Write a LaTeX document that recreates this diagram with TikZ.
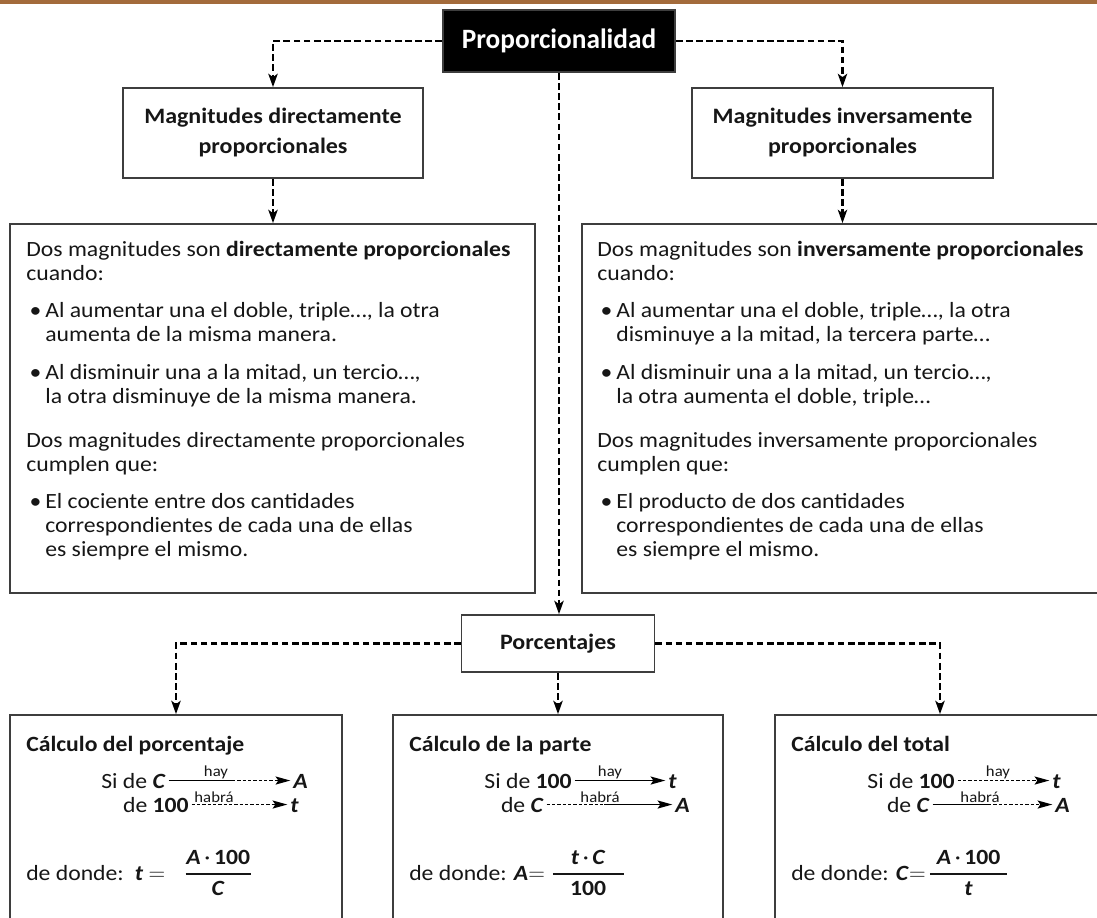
\documentclass[tikz,border=0pt]{standalone}
\usepackage{fontspec}
\setmainfont[FakeStretch=1.09]{Carlito}
\newfontfamily\titlefont[FakeStretch=0.975]{Carlito}
\usepackage{amsmath}
\usetikzlibrary{positioning}
\usetikzlibrary{arrows.meta}
\usetikzlibrary{calc}

\definecolor{bandbrown}{RGB}{163,107,59}
\definecolor{boxgray}{RGB}{62,62,62}
\definecolor{inkblack}{RGB}{22,22,22}

\newcommand{\px}{0.75pt}
\newcommand{\varb}[1]{\textbf{\textit{#1}}}
\newcommand{\bpt}{\hbox to 14.2pt{\hskip 2.5pt\textbullet\hss}}
\newcommand{\bcont}{\hspace*{14.2pt}}
% fraction with a fixed bar length
\newcommand{\barfrac}[3]{\genfrac{}{}{1.2pt}{0}{\text{\makebox[#1]{#2}}}{\text{\makebox[#1]{#3}}}}

\begin{document}
\begin{tikzpicture}[x=0.75pt, y=-0.75pt,
  box/.style={draw=boxgray, line width=1.3pt, inner sep=0pt},
  conn/.style={line width=1.8pt, dash pattern=on 5pt off 2.6pt,
    -{Stealth[length=10pt, width=7pt, inset=2.5pt]}},
  headtext/.style={font=\fontsize{16.5}{22.5}\selectfont\bfseries, align=center, text=inkblack},
  bodytext/.style={font=\fontsize{16.3}{18}\selectfont, inner sep=0pt,
    text=inkblack, anchor=base west},
  lefttext/.style={bodytext, anchor=base east},
  reltext/.style={font=\fontsize{11.5}{12}\selectfont, inner sep=1pt, anchor=south, text=inkblack},
  relsolid/.style={line width=1.2pt},
  reldash/.style={line width=1.2pt, dash pattern=on 2.4pt off 1.6pt},
  reltip/.style={-{Stealth[length=11pt, width=6pt, inset=2pt]}}
]

  \useasboundingbox (0,0) rectangle (1097,918);
  \clip (0,0) rectangle (1097,918);

  % brown band on top
  \fill[bandbrown] (0,0) rectangle (1097,3.5);

  % main title
  \node[box, fill=black, minimum width=232*\px, minimum height=62*\px,
    font=\titlefont\bfseries\fontsize{21}{24}\selectfont, text=white] (prop) at (559,41) {Proporcionalidad};

  % the two kinds of magnitudes
  \node[box, headtext, minimum width=300*\px, minimum height=90*\px] (magdir) at (273,133)
    {Magnitudes directamente\\proporcionales};
  \node[box, headtext, minimum width=301*\px, minimum height=90*\px] (magind) at (842.5,133)
    {Magnitudes inversamente\\proporcionales};

  \node[box, minimum width=525*\px, minimum height=369*\px] (dirbox) at (272.5,408.5) {};
  \node[box, minimum width=523*\px, minimum height=369*\px] (invbox) at (843.5,408.5) {};

  \node[bodytext] (dirtext) at ([shift={(17,33)}]dirbox.north west) {%
    \begin{tabular}[t]{@{}l@{}}
    Dos magnitudes son \textbf{directamente proporcionales}\\
    cuando:\\[10pt]
    \bpt Al aumentar una el doble, triple…, la otra\\
    \bcont aumenta de la misma manera.\\[10.5pt]
    \bpt Al disminuir una a la mitad, un tercio…,\\
    \bcont la otra disminuye de la misma manera.\\[15pt]
    Dos magnitudes directamente proporcionales\\
    cumplen que:\\[10pt]
    \bpt El cociente entre dos cantidades\\
    \bcont correspondientes de cada una de ellas\\
    \bcont es siempre el mismo.
    \end{tabular}};

  \node[bodytext] (invtext) at ([shift={(16,33)}]invbox.north west) {%
    \begin{tabular}[t]{@{}l@{}}
    Dos magnitudes son \textbf{inversamente proporcionales}\\
    cuando:\\[10pt]
    \bpt Al aumentar una el doble, triple…, la otra\\
    \bcont disminuye a la mitad, la tercera parte…\\[10.5pt]
    \bpt Al disminuir una a la mitad, un tercio…,\\
    \bcont la otra aumenta el doble, triple…\\[15pt]
    Dos magnitudes inversamente proporcionales\\
    cumplen que:\\[10pt]
    \bpt El producto de dos cantidades\\
    \bcont correspondientes de cada una de ellas\\
    \bcont es siempre el mismo.
    \end{tabular}};

  % percentages
  \node[box, headtext, minimum width=193*\px, minimum height=57*\px] (porc) at (558,643.5) {Porcentajes};

  \node[box, minimum width=332*\px, minimum height=230*\px] (bleft) at (176,830) {};
  \node[box, minimum width=330*\px, minimum height=230*\px] (bmid) at (558,830) {};
  \node[box, minimum width=330*\px, minimum height=230*\px] (bright) at (940,830) {};

  % connectors
  \draw[conn] (prop.west) -| (magdir.north);
  \draw[conn] (prop.east) -| (magind.north);
  \draw[conn] (magdir.south) -- (magdir.south |- dirbox.north);
  \draw[conn] (magind.south) -- (magind.south |- invbox.north);
  \draw[conn] (prop.south) -- (prop.south |- porc.north);
  \draw[conn] (porc.west) -| (bleft.north);
  \draw[conn] (porc.east) -| (bright.north);
  \draw[conn] (porc.south) -- (porc.south |- bmid.north);

  % Calculo del porcentaje
  \node[bodytext, font=\fontsize{16.3}{18}\selectfont\bfseries] (ptitle) at (26,751) {Cálculo del porcentaje};
  \node[lefttext] (pc1) at (166,788) {Si de \varb{C}};
  \node[bodytext] (pa1) at (293,788) {\varb{A}};
  \node[lefttext] (pc2) at (189,812) {de \textbf{100}};
  \node[bodytext] (pa2) at (290,812) {\varb{t}};
  \draw[relsolid, shorten <=2pt] (pc1.east) -- ++(66,0) coordinate (pm1);
  \draw[reldash, reltip, shorten >=2pt] (pm1) -- (pm1 -| pa1.west);
  \path (pc1.east) ++(50,0) node[reltext] {hay};
  \draw[reldash, reltip, shorten <=2pt, shorten >=2pt] (pc2.east) -- (pc2.east -| pa2.west);
  \path (pc2.east) ++(25,0) node[reltext] {habrá};
  \node[bodytext] (pform) at (26,880)
    {de donde:\hspace{3pt} \varb{t} $=$\hspace{14pt}$\barfrac{49pt}{\varb{A}\,·\,\textbf{100}}{\varb{C}}$};

  % Calculo de la parte
  \node[bodytext, font=\fontsize{16.3}{18}\selectfont\bfseries] (ttitle) at (409,751) {Cálculo de la parte};
  \node[lefttext] (tc1) at (572,788) {Si de \textbf{100}};
  \node[bodytext] (ta1) at (668,788) {\varb{t}};
  \node[lefttext] (tc2) at (544,812) {de \varb{C}};
  \node[bodytext] (ta2) at (675,812) {\varb{A}};
  \draw[relsolid, reltip, shorten <=2pt, shorten >=2pt] (tc1.east) -- (tc1.east -| ta1.west);
  \path (tc1.east) ++(38,0) node[reltext] {hay};
  \draw[reldash, shorten <=2pt] (tc2.east) -- ++(60,0) coordinate (tm2);
  \draw[relsolid, reltip, shorten >=2pt] (tm2) -- (tm2 -| ta2.west);
  \path (tc2.east) ++(56,0) node[reltext] {habrá};
  \node[bodytext] (tform) at (409,880)
    {de donde: \varb{A}$=\barfrac{53pt}{\varb{t}\,·\,\varb{C}}{\textbf{100}}$};

  % Calculo del total
  \node[bodytext, font=\fontsize{16.3}{18}\selectfont\bfseries] (ctitle) at (791,751) {Cálculo del total};
  \node[lefttext] (cc1) at (955,788) {Si de \textbf{100}};
  \node[bodytext] (ca1) at (1052,788) {\varb{t}};
  \node[lefttext] (cc2) at (930,812) {de \varb{C}};
  \node[bodytext] (ca2) at (1055,812) {\varb{A}};
  \draw[reldash, reltip, shorten <=2pt, shorten >=2pt] (cc1.east) -- (cc1.east -| ca1.west);
  \path (cc1.east) ++(43,0) node[reltext] {hay};
  \draw[relsolid, shorten <=2pt] (cc2.east) -- ++(58,0) coordinate (cm2);
  \draw[reldash, reltip, shorten >=2pt] (cm2) -- (cm2 -| ca2.west);
  \path (cc2.east) ++(50,0) node[reltext] {habrá};
  \node[bodytext] (cform) at (791,880)
    {de donde: \varb{C}$=$\hspace{2pt}$\barfrac{58pt}{\varb{A}\,·\,\textbf{100}}{\varb{t}}$};

\end{tikzpicture}
\end{document}
